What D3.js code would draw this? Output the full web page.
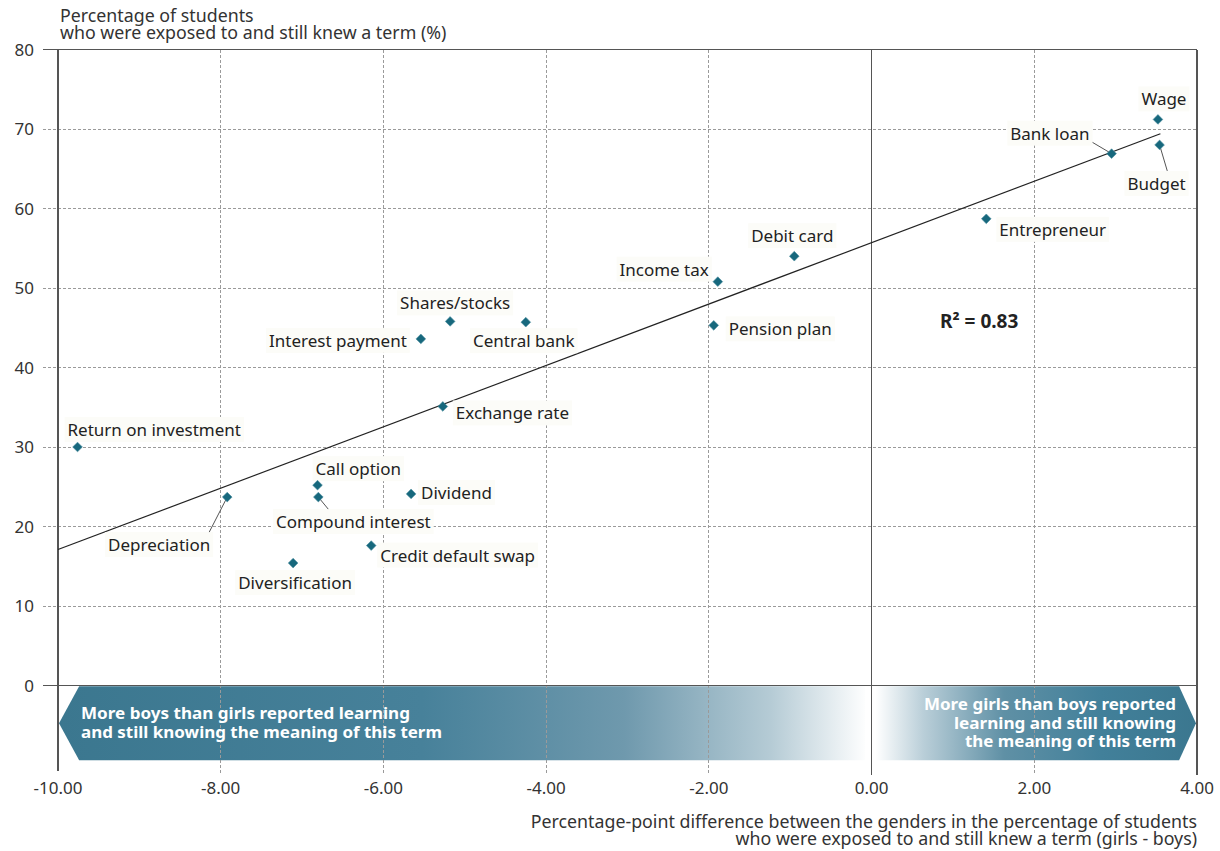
<!DOCTYPE html>
<html><head><meta charset="utf-8">
<script src="https://cdn.jsdelivr.net/npm/d3@7"></script>
<style>
body{margin:0;background:#fff;}
text{font-family:"Noto Sans",sans-serif;}
</style></head>
<body><svg id="chart" width="1220" height="851"></svg>
<script>
// ---- data ----
const terms = ["Wage","Bank loan","Budget","Entrepreneur","Debit card","Income tax","Pension plan","Shares/stocks","Interest payment","Central bank","Exchange rate","Return on investment","Depreciation","Call option","Compound interest","Dividend","Credit default swap","Diversification"];
const genderDiff = [3.52,2.95,3.54,1.41,-0.95,-1.89,-1.94,-5.18,-5.54,-4.25,-5.27,-9.76,-7.92,-6.81,-6.80,-5.66,-6.15,-7.11];
const pctKnew = [71.2,66.9,68.0,58.7,54.0,50.8,45.3,45.8,43.6,45.7,35.1,30.0,23.7,25.2,23.7,24.1,17.6,15.4];
const xTicks = [-10,-8,-6,-4,-2,0,2,4];
const yTicks = [0,10,20,30,40,50,60,70,80];
const trendSlope = 3.86, trendIntercept = 55.7, trendXRange = [-10, 3.55];
const rSquared = "0.83";
const yTitle = ["Percentage of students","who were exposed to and still knew a term (%)"];
const xTitle = ["Percentage-point difference between the genders in the percentage of students","who were exposed to and still knew a term (girls - boys)"];
const boysNote = ["More boys than girls reported learning","and still knowing the meaning of this term"];
const girlsNote = ["More girls than boys reported","learning and still knowing","the meaning of this term"];

// ---- label layout (anchor, dx, dy from the point; optional leader end) ----
const labelLayout = {
 "Wage":["middle",6,-20],
 "Bank loan":["end",-22,-20,[-22,-13]],
 "Budget":["middle",-3,39,[8,27]],
 "Entrepreneur":["start",13,11],
 "Debit card":["middle",-2,-20],
 "Income tax":["end",-9,-12],
 "Pension plan":["start",15,4],
 "Shares/stocks":["middle",5,-18],
 "Interest payment":["end",-14,2],
 "Central bank":["middle",-2,19],
 "Exchange rate":["start",13,7],
 "Return on investment":["start",-10,-17],
 "Depreciation":["end",-17,48,[-19,37]],
 "Call option":["start",-2,-16],
 "Compound interest":["middle",35,25,[14,17]],
 "Dividend":["start",10,-1],
 "Credit default swap":["start",9,10],
 "Diversification":["middle",2,20]
};

const svg = d3.select("#chart");
const x = d3.scaleLinear().domain([-10,4]).range([58,1197]);
const y = d3.scaleLinear().domain([-10,80]).range([765,49.5]);
const solid = "#555", grid = "#9a9a9a";

// gradients
const defs = svg.append("defs");
const gl = defs.append("linearGradient").attr("id","gl").attr("gradientUnits","userSpaceOnUse")
  .attr("x1",x(-10)).attr("x2",x(-0.05)).attr("y1",0).attr("y2",0);
[[0,"#3b778f"],[0.45,"#47819a"],[0.7,"#6f99ad"],[0.88,"#b5cbd5"],[1,"#ffffff"]].forEach(s=>gl.append("stop").attr("offset",s[0]).attr("stop-color",s[1]));
const gr = defs.append("linearGradient").attr("id","gr").attr("gradientUnits","userSpaceOnUse")
  .attr("x1",x(0.05)).attr("x2",x(4)).attr("y1",0).attr("y2",0);
[[0,"#ffffff"],[0.15,"#b9ced8"],[0.4,"#5f90a5"],[0.7,"#42809a"],[1,"#3b778f"]].forEach(s=>gr.append("stop").attr("offset",s[0]).attr("stop-color",s[1]));

// bands (arrows)
const bandTop = y(-0.1), bandBot = y(-9.4), bandMid = (bandTop+bandBot)/2;
svg.append("path").attr("fill","url(#gl)")
  .attr("d",`M${x(-10)+1},${bandMid}L${x(-9.74)},${bandTop}L${x(-0.08)},${bandTop}L${x(-0.08)},${bandBot}L${x(-9.74)},${bandBot}Z`);
svg.append("path").attr("fill","url(#gr)")
  .attr("d",`M${x(0.04)},${bandTop}L${x(3.78)},${bandTop}L${x(4)-1},${bandMid}L${x(3.78)},${bandBot}L${x(0.04)},${bandBot}Z`);

// gridlines
svg.append("g").selectAll("line").data(yTicks.filter(d=>d!==0 && d!==80)).join("line")
  .attr("x1",43).attr("x2",x(4)).attr("y1",d=>y(d)).attr("y2",d=>y(d))
  .attr("stroke",grid).attr("stroke-dasharray","3,2").attr("shape-rendering","crispEdges");
svg.append("g").selectAll("line").data(xTicks.filter(d=>d!==-10 && d!==0 && d!==4)).join("line")
  .attr("x1",d=>x(d)).attr("x2",d=>x(d)).attr("y1",y(80)).attr("y2",775)
  .attr("stroke",grid).attr("stroke-dasharray","3,2").attr("shape-rendering","crispEdges");
// solid lines
[[43,x(4),y(80),y(80)],[43,x(4),y(0),y(0)],[x(-10),x(-10),y(80),771],[x(0),x(0),y(80),775],[x(4),x(4),y(80),775]].forEach(l=>
  svg.append("line").attr("x1",l[0]).attr("x2",l[1]).attr("y1",l[2]).attr("y2",l[3]).attr("stroke",solid).attr("stroke-width",1.2).attr("shape-rendering","crispEdges"));

// band notes
const noteFont = "16px";
svg.append("g").selectAll("text").data(boysNote).join("text")
  .attr("x",81).attr("y",(d,i)=>719+i*18.5).attr("fill","#fff").attr("font-weight","bold")
  .attr("font-size",noteFont).attr("textLength",(d,i)=>[329,361][i]).attr("lengthAdjust","spacingAndGlyphs").text(d=>d);
svg.append("g").selectAll("text").data(girlsNote).join("text")
  .attr("x",1176).attr("y",(d,i)=>710+i*18.5).attr("fill","#fff").attr("font-weight","bold").attr("text-anchor","end")
  .attr("font-size",noteFont).attr("textLength",(d,i)=>[252,222,211][i]).attr("lengthAdjust","spacingAndGlyphs").text(d=>d);

// axes tick labels
const fmt = d => d3.format(".2f")(d).replace("\u2212","-");
svg.append("g").selectAll("text").data(yTicks).join("text")
  .attr("x",34).attr("y",d=>y(d)+6).attr("text-anchor","end").attr("font-size","17px").attr("fill","#333").text(d=>d);
svg.append("g").selectAll("text").data(xTicks).join("text")
  .attr("x",d=>x(d)).attr("y",794).attr("text-anchor","middle").attr("font-size","17px").attr("fill","#333").text(fmt);

// axis titles
svg.append("g").selectAll("text").data(yTitle).join("text")
  .attr("x",60).attr("y",(d,i)=>22+i*17).attr("font-size","17.8px").attr("fill","#333").text(d=>d);
svg.append("g").selectAll("text").data(xTitle).join("text")
  .attr("x",1197).attr("y",(d,i)=>828+i*17).attr("text-anchor","end").attr("font-size","17.8px").attr("fill","#333").text(d=>d);

// trend line
svg.append("line").attr("x1",x(trendXRange[0])).attr("y1",y(trendIntercept+trendSlope*trendXRange[0]))
  .attr("x2",x(trendXRange[1])).attr("y2",y(trendIntercept+trendSlope*trendXRange[1]))
  .attr("stroke","#222").attr("stroke-width",1.2);

// labels
const pts = terms.map((t,i)=>({t, px:x(genderDiff[i]), py:y(pctKnew[i]), L:labelLayout[t]}));
const lg = svg.append("g");
pts.forEach(p=>{
  if(p.L[3]){
    lg.append("line").attr("x1",p.px).attr("y1",p.py).attr("x2",p.px+p.L[3][0]).attr("y2",p.py+p.L[3][1])
      .attr("stroke","#555").attr("stroke-width",1);
  }
});
pts.forEach(p=>{
  const g = lg.append("g");
  const txt = g.append("text").attr("x",p.px+p.L[1]).attr("y",p.py+p.L[2]+6)
    .attr("text-anchor",p.L[0]).attr("font-size","17px").attr("fill","#222").text(p.t);
  const b = txt.node().getBBox();
  g.insert("rect","text").attr("x",b.x-3).attr("y",b.y-1).attr("width",b.width+6).attr("height",b.height+2).attr("fill","#fcfcf8");
});

// markers
svg.append("g").selectAll("path").data(pts).join("path")
  .attr("d",d3.symbol(d3.symbolDiamond2).size(60))
  .attr("transform",d=>`translate(${d.px},${d.py})`)
  .attr("fill","#17687d").attr("stroke","#4d8fa0").attr("stroke-width",0.6);

// R squared
svg.append("text").attr("x",940).attr("y",328).attr("font-size","19px").attr("font-weight","bold").attr("fill","#222")
  .text("R² = " + rSquared);
</script></body></html>
